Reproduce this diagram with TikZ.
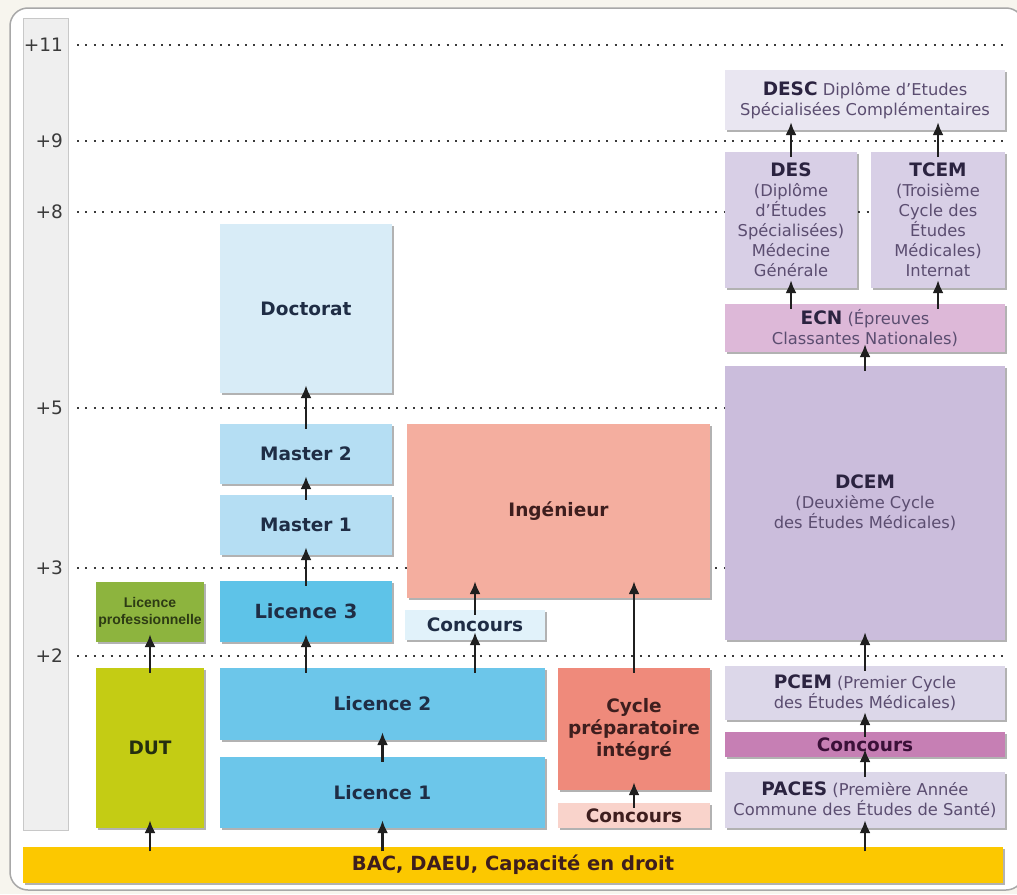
\documentclass[tikz,border=0pt]{standalone}
\usepackage{fontspec}
\setmainfont{DejaVu Sans}
\newfontfamily\arialf{Liberation Sans}
\usetikzlibrary{arrows.meta,shadows}

% palette
\definecolor{cream}{HTML}{F7F5EE}
\definecolor{framec}{HTML}{A8A8A8}
\definecolor{stripc}{HTML}{EFEFEF}
\definecolor{stripb}{HTML}{C8C8C8}
\definecolor{gridc}{HTML}{3A3A3A}
\definecolor{descc}{HTML}{E9E6F1}
\definecolor{desc}{HTML}{D8CFE6}
\definecolor{ecnc}{HTML}{DDB8D8}
\definecolor{dcemc}{HTML}{CBBDDC}
\definecolor{pcemc}{HTML}{DCD7E9}
\definecolor{concm}{HTML}{C67FB4}
\definecolor{bacc}{HTML}{FCC800}
\definecolor{licproc}{HTML}{8DB43E}
\definecolor{dutc}{HTML}{C4CC14}
\definecolor{docc}{HTML}{D8ECF7}
\definecolor{masterc}{HTML}{B5DEF3}
\definecolor{lic3c}{HTML}{5EC3E8}
\definecolor{licc}{HTML}{6CC6EA}
\definecolor{concb}{HTML}{E1F2FA}
\definecolor{ingc}{HTML}{F4AE9F}
\definecolor{cyclec}{HTML}{EF8A7B}
\definecolor{concp}{HTML}{F9D3CB}
\definecolor{navy}{HTML}{1F2D45}
\definecolor{medbold}{HTML}{2B2340}
\definecolor{medtext}{HTML}{5B4D70}
\definecolor{browntext}{HTML}{3E1E1E}
\definecolor{greentext}{HTML}{2D3B14}
\definecolor{plumtext}{HTML}{3A1038}

\tikzset{
  box/.style={rectangle, inner sep=0pt, align=center,
    drop shadow={shadow xshift=2pt, shadow yshift=-2pt, fill=black, opacity=0.3}},
  big/.style={font=\bfseries\fontsize{18.5}{22}\selectfont},
  med/.style={text=medtext, font=\fontsize{16.3}{20}\selectfont},
  arr/.style={draw=black!88, line width=2.2pt, -{Latex[length=13pt,width=11pt]},
    shorten >=-8pt, shorten <=-5pt},
  deep/.style={shorten >=-17pt},
  grid/.style={gridc, line width=2.2pt, dash pattern=on 2pt off 6.4pt},
  yearlbl/.style={anchor=east, text=gridc, font=\fontsize{18.5}{20}\selectfont, inner sep=0pt}
}

\newcommand{\mb}[1]{{\color{medbold}\bfseries\fontsize{18.5}{20}\selectfont #1}}

\begin{document}
\begin{tikzpicture}[x=1pt, y=-1pt]
\useasboundingbox (0,0) rectangle (1017,894);
\fill[cream] (0,0) rectangle (1017,894);
\draw[framec, fill=white, line width=1.5pt, rounded corners=18pt] (10,8) rectangle (1024,890);

% year scale
\draw[stripb, fill=stripc, line width=0.8pt] (23,18) rectangle (68,830);
\foreach \yy/\lab in {45/+11, 141/+9, 212/+8, 408/+5, 568/+3, 656/+2}{
  \node[yearlbl] (y\yy) at (63,\yy) {\lab};
  \draw[grid] (77,\yy) -- (1006,\yy);
}

% base
\node[box, fill=bacc, minimum width=980pt, minimum height=36pt, text=browntext,
  font=\bfseries\fontsize{19.5}{22}\selectfont]
  (bac) at (513,864.5) {BAC, DAEU, Capacité en droit};

% short technical track
\node[box, fill=dutc, minimum width=108pt, minimum height=160pt, big, text=greentext!80!black]
  (dut) at (150,748) {DUT};
\node[box, fill=licproc, minimum width=108pt, minimum height=60pt, text=greentext,
  font=\arialf\bfseries\fontsize{14}{17}\selectfont]
  (licpro) at (150,612) {Licence\\professionnelle};

% university track
\node[box, fill=licc, minimum width=325pt, minimum height=71pt, big, text=navy]
  (lic1) at (382.5,792.5) {Licence 1};
\node[box, fill=licc, minimum width=325pt, minimum height=72pt, big, text=navy]
  (lic2) at (382.5,704) {Licence 2};
\node[box, fill=lic3c, minimum width=172pt, minimum height=61pt, text=navy,
  font=\bfseries\fontsize{19.5}{22}\selectfont]
  (lic3) at (306,611.5) {Licence 3};
\node[box, fill=masterc, minimum width=172pt, minimum height=60pt, big, text=navy]
  (m1) at (306,525) {Master 1};
\node[box, fill=masterc, minimum width=172pt, minimum height=60pt, big, text=navy]
  (m2) at (306,454) {Master 2};
\node[box, fill=docc, minimum width=172pt, minimum height=169pt, big, text=navy]
  (doc) at (306,308.5) {Doctorat};

% engineering track
\node[box, fill=concb, minimum width=140pt, minimum height=30pt, big, text=navy]
  (concb) at (475,625) {Concours};
\node[box, fill=ingc, minimum width=303pt, minimum height=174pt, big, text=browntext]
  (ing) at (558.5,511) {Ingénieur};
\node[box, fill=cyclec, minimum width=152pt, minimum height=122pt, big, text=browntext]
  (cycle) at (634,729) {Cycle\\préparatoire\\intégré};
\node[box, fill=concp, minimum width=152pt, minimum height=25pt, big, text=browntext]
  (concp) at (634,815.5) {Concours};

% medical track
\node[box, fill=pcemc, minimum width=280pt, minimum height=56pt, med]
  (paces) at (865,800) {\mb{PACES} (Première Année\\Commune des Études de Santé)};
\node[box, fill=concm, minimum width=280pt, minimum height=25pt, big, text=plumtext]
  (concm) at (865,744.5) {Concours};
\node[box, fill=pcemc, minimum width=280pt, minimum height=54pt, med]
  (pcem) at (865,693) {\mb{PCEM} (Premier Cycle\\des Études Médicales)};
\node[box, fill=dcemc, minimum width=280pt, minimum height=274pt, med]
  (dcem) at (865,503) {\mb{DCEM}\\(Deuxième Cycle\\des Études Médicales)};
\node[box, fill=ecnc, minimum width=280pt, minimum height=48pt, med]
  (ecn) at (865,328) {\mb{ECN} (Épreuves\\Classantes Nationales)};
\node[box, fill=desc, minimum width=132pt, minimum height=136pt, med]
  (des) at (791,220) {\mb{DES}\\(Diplôme\\d'Études\\Spécialisées)\\Médecine\\Générale};
\node[box, fill=desc, minimum width=134pt, minimum height=136pt, med]
  (tcem) at (938,220) {\mb{TCEM}\\(Troisième\\Cycle des\\Études\\Médicales)\\Internat};
\node[box, fill=descc, minimum width=280pt, minimum height=60pt, med]
  (desc) at (865,100) {\mb{DESC} Diplôme d'Etudes\\Spécialisées Complémentaires};

% progressions
\draw[arr] (dut.north |- bac.north) -- (dut.south);
\draw[arr] (lic1.north |- bac.north) -- (lic1.south);
\draw[arr] (paces.north |- bac.north) -- (paces.south);
\draw[arr] (dut.north) -- (licpro.south);
\draw[arr] (lic1.north) -- (lic2.south);
\draw[arr] (lic3.south |- lic2.north) -- (lic3.south);
\draw[arr] (lic3.north) -- (m1.south);
\draw[arr] (m1.north) -- (m2.south);
\draw[arr] (m2.north) -- (doc.south);
\draw[arr] (concb.south |- lic2.north) -- (concb.south);
\draw[arr, deep] (concb.north) -- (concb.north |- ing.south);
\draw[arr, deep] (cycle.north) -- (cycle.north |- ing.south);
\draw[arr] (concp.north) -- (cycle.south);
\draw[arr] (paces.north) -- (concm.south);
\draw[arr] (concm.north) -- (pcem.south);
\draw[arr] (pcem.north) -- (dcem.south);
\draw[arr] (dcem.north) -- (ecn.south);
\draw[arr] (des.south |- ecn.north) -- (des.south);
\draw[arr] (tcem.south |- ecn.north) -- (tcem.south);
\draw[arr] (des.north) -- (des.north |- desc.south);
\draw[arr] (tcem.north) -- (tcem.north |- desc.south);
\end{tikzpicture}
\end{document}
